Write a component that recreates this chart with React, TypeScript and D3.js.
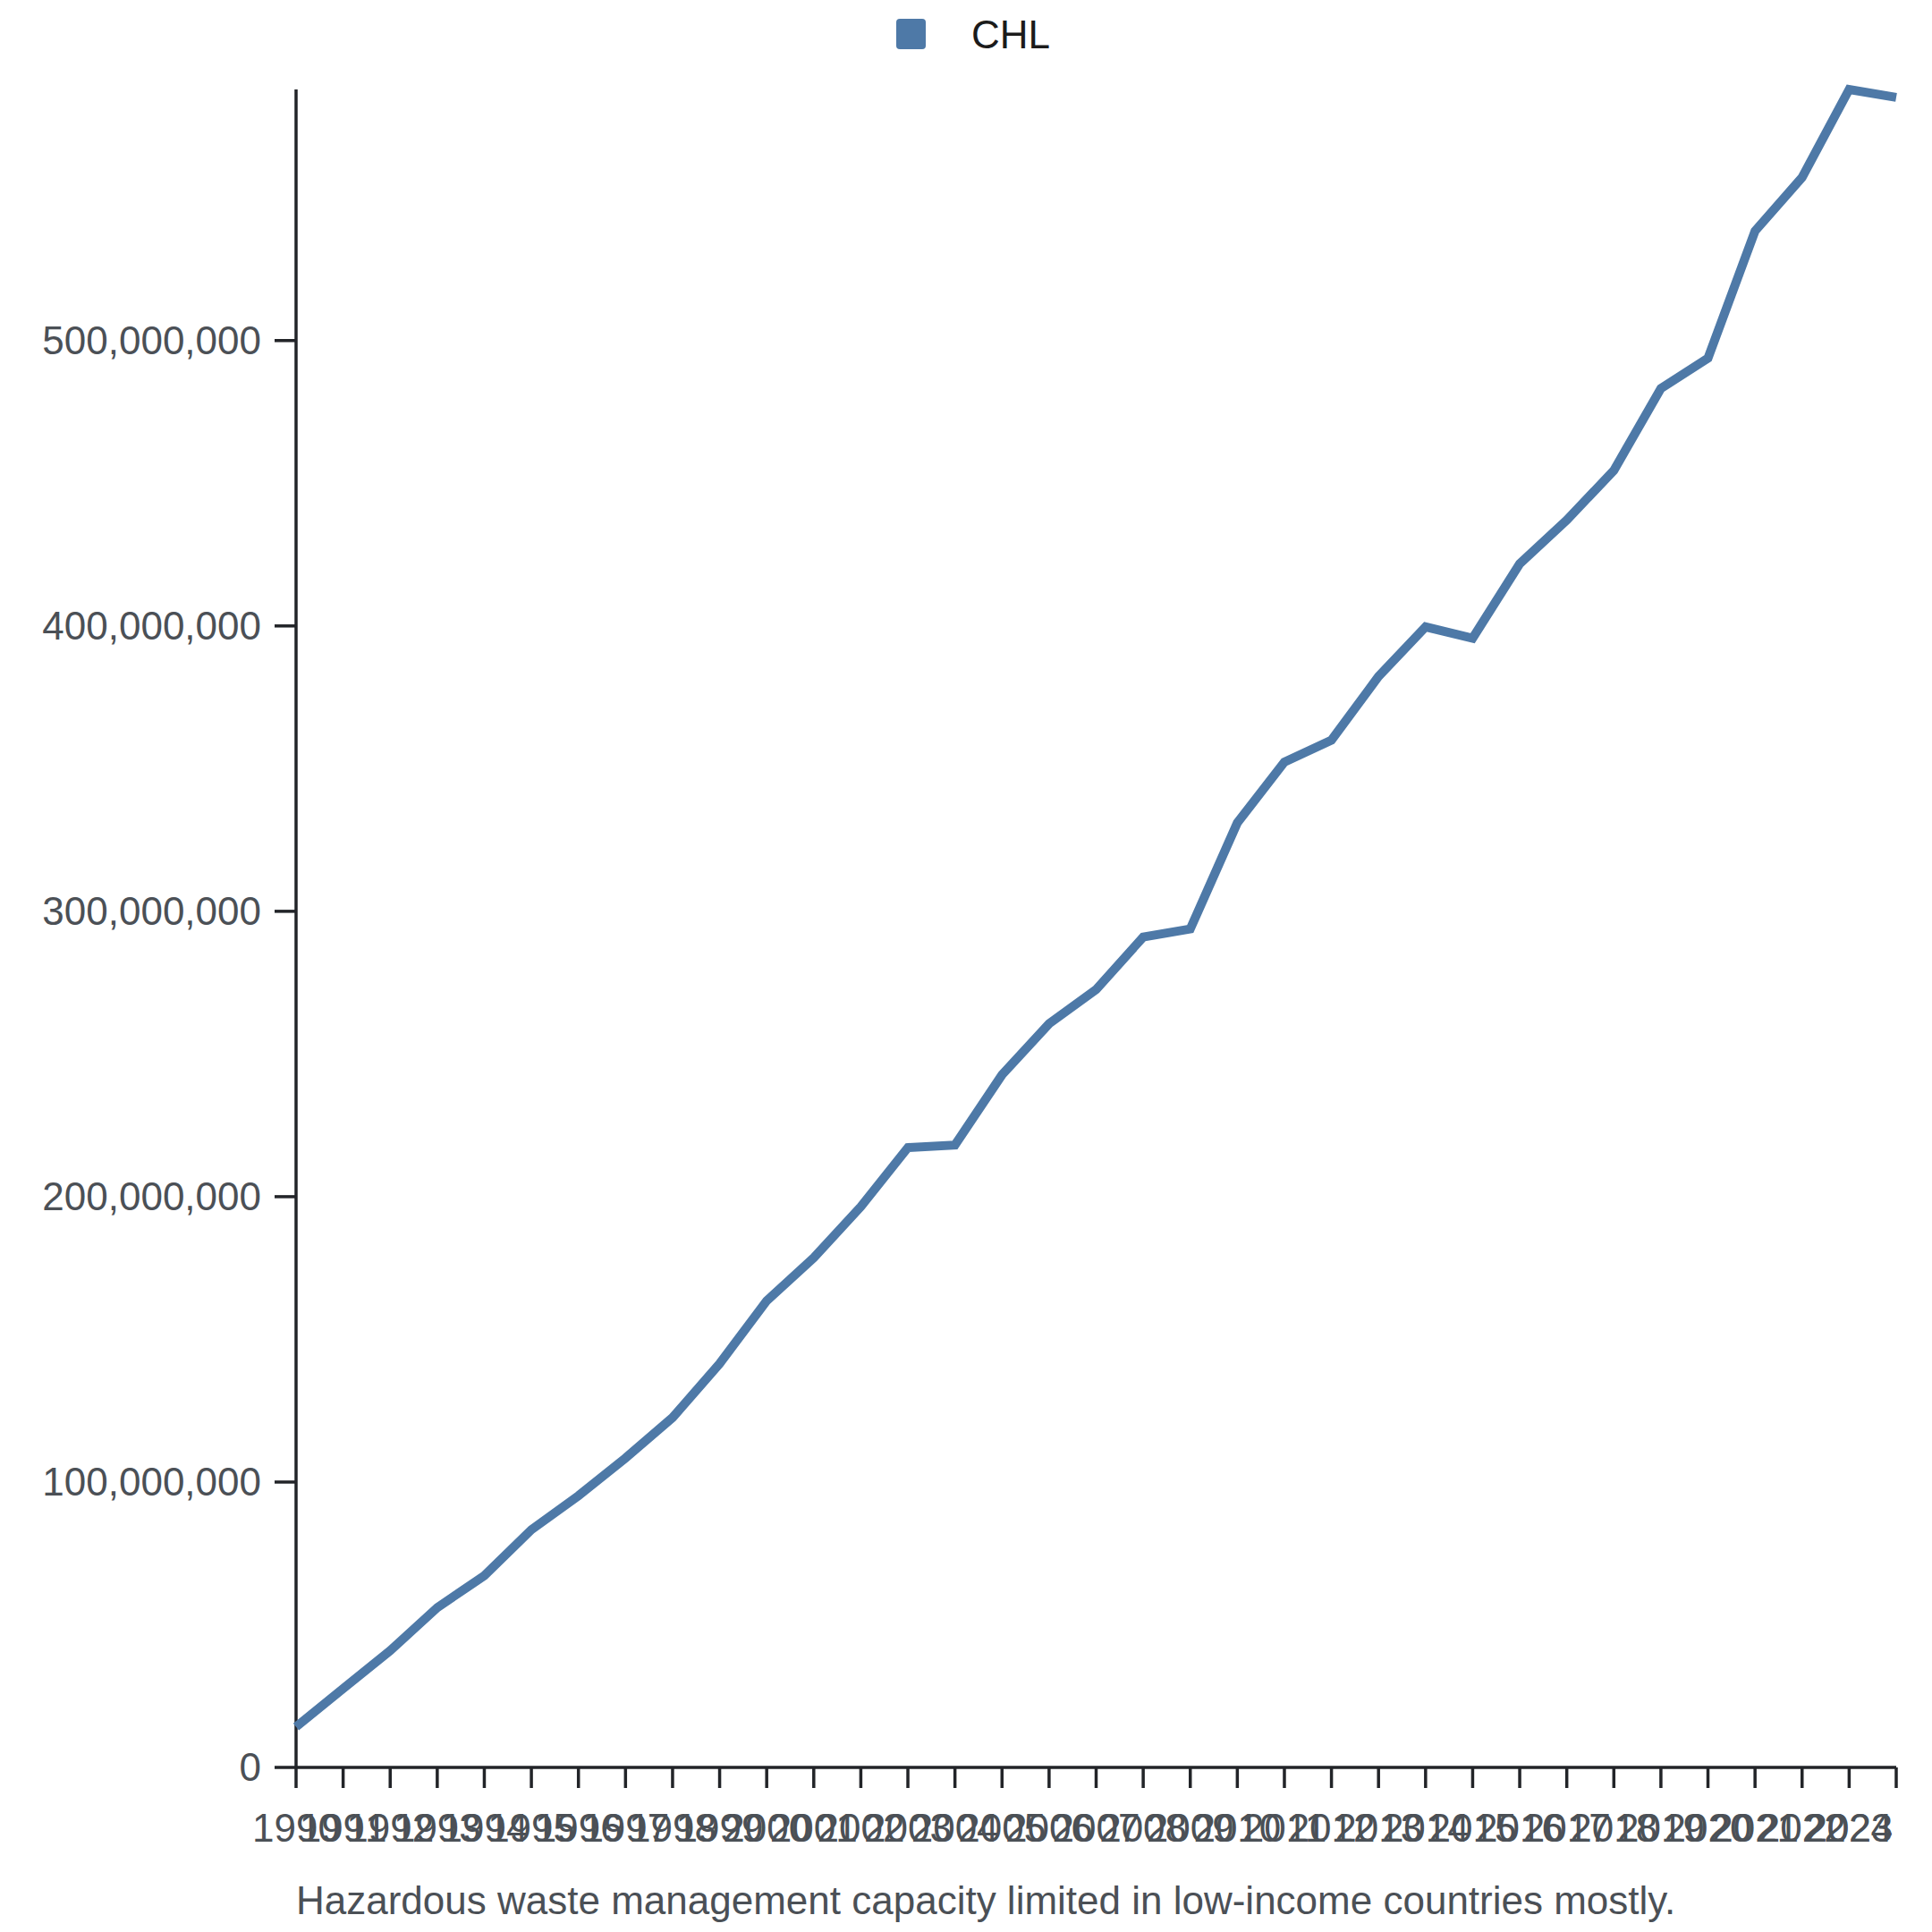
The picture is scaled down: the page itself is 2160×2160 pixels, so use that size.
import React from "react";
import * as d3 from "d3";

const years: number[] = [
  1990, 1991, 1992, 1993, 1994, 1995, 1996, 1997, 1998, 1999,
  2000, 2001, 2002, 2003, 2004, 2005, 2006, 2007, 2008, 2009,
  2010, 2011, 2012, 2013, 2014, 2015, 2016, 2017, 2018, 2019,
  2020, 2021, 2022, 2023, 2024,
];

const chlValues: number[] = [
  14.2e6, 27.6e6, 40.9e6, 56.0e6, 67.2e6, 83.3e6, 95.2e6, 108.4e6, 122.6e6, 141.5e6,
  163.5e6, 178.6e6, 196.5e6, 217.2e6, 218.1e6, 242.7e6, 260.6e6, 272.6e6, 291.0e6, 293.8e6,
  331.0e6, 352.3e6, 360.0e6, 382.3e6, 399.7e6, 395.7e6, 421.8e6, 437.1e6, 454.5e6, 483.2e6,
  493.8e6, 538.4e6, 557.2e6, 588.0e6, 585.2e6,
];

const seriesName = "CHL";
const caption =
  "Hazardous waste management capacity limited in low-income countries mostly.";
const yTickValues: number[] = [0, 100e6, 200e6, 300e6, 400e6, 500e6];

const W = 2160;
const H = 2160;
const left = 331;
const right = 2120;
const top = 100;
const bottom = 1976;
const font = "'Liberation Sans', Arial, Helvetica, sans-serif";
const lineColor = "#4e79a7";
const axisColor = "#222428";
const labelColor = "#4b5056";

export default function App() {
  const x = d3
    .scaleLinear()
    .domain([years[0], years[years.length - 1]])
    .range([left, right]);
  const y = d3
    .scaleLinear()
    .domain([0, d3.max(chlValues) as number])
    .range([bottom, top]);
  const fmt = d3.format(",");
  const line = d3
    .line<number>()
    .x((_, i) => x(years[i]))
    .y((d) => y(d));
  const path = line(chlValues) || "";
  const lastYear = years[years.length - 1];

  return (
    <svg
      width={W}
      height={H}
      style={{ position: "absolute", left: 0, top: 0, background: "#fff" }}
      fontFamily={font}
    >
      <rect x={0} y={0} width={W} height={H} fill="#fff" />
      {/* legend */}
      <rect x={1002} y={21} width={33} height={34} rx={4} fill={lineColor} />
      <text x={1086} y={54} fontSize={44} fill="#1b1b1b">
        {seriesName}
      </text>

      {/* y axis */}
      <line x1={left} x2={left} y1={top} y2={bottom} stroke={axisColor} strokeWidth={3.5} />
      {yTickValues.map((v) => (
        <g key={v} transform={`translate(0,${y(v)})`}>
          <line x1={left - 24} x2={left} stroke={axisColor} strokeWidth={3.5} />
          <text
            x={left - 39}
            dy="0.34em"
            textAnchor="end"
            fontSize={44}
            fill={labelColor}
          >
            {fmt(v)}
          </text>
        </g>
      ))}

      {/* x axis */}
      <line x1={left} x2={right} y1={bottom} y2={bottom} stroke={axisColor} strokeWidth={3.5} />
      {years.map((yr) => (
        <g key={yr} transform={`translate(${x(yr)},0)`}>
          <line y1={bottom} y2={bottom + 23} stroke={axisColor} strokeWidth={3.5} />
          <text
            x={yr === lastYear ? -4 : 0}
            y={bottom + 83}
            textAnchor={yr === lastYear ? "end" : "middle"}
            fontSize={44}
            fill={labelColor}
          >
            {String(yr)}
          </text>
        </g>
      ))}

      {/* line */}
      <path
        d={path}
        fill="none"
        stroke={lineColor}
        strokeWidth={10}
        strokeLinejoin="miter"
      />

      {/* caption */}
      <text x={331} y={2140} fontSize={44} fill={labelColor}>
        {caption}
      </text>
    </svg>
  );
}
